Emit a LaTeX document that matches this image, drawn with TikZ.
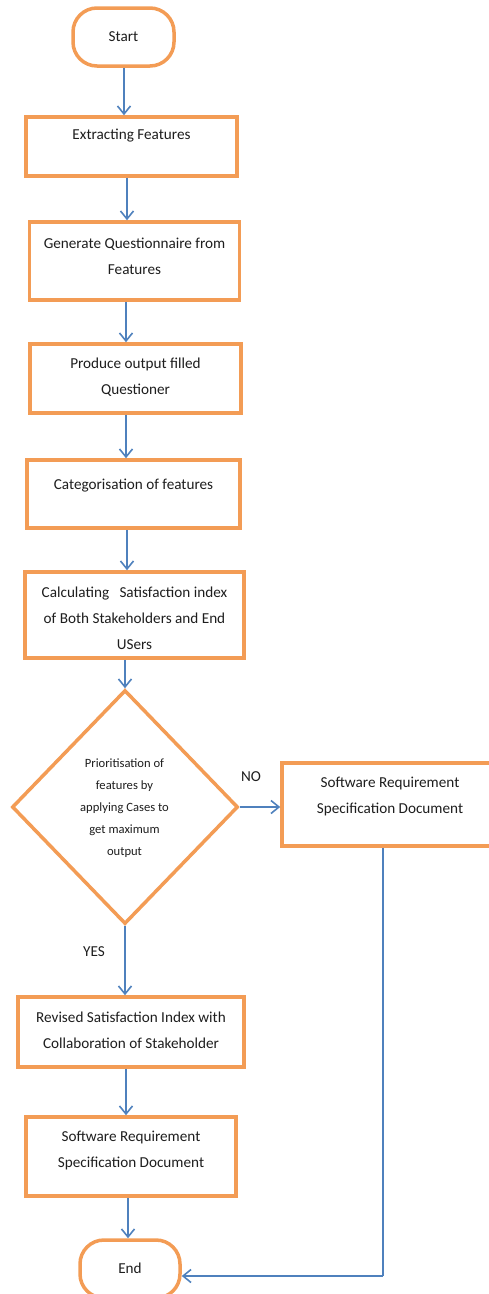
\documentclass[tikz,border=0pt]{standalone}
\usepackage{fontspec}
\setmainfont{Carlito}
\usetikzlibrary{arrows.meta,shapes.geometric}
\definecolor{borange}{HTML}{F39C55}
\definecolor{lblue}{HTML}{4F81BD}
\definecolor{tgray}{HTML}{1E1E1E}
\tikzset{
  box/.style={draw=borange, line width=3.5pt, fill=white, inner sep=0pt},
  term/.style={box, rounded corners=24pt},
  txt/.style={align=center, text=tgray, font=\fontsize{15.2}{26}\selectfont, inner sep=0pt},
  smalltxt/.style={align=center, text=tgray, font=\fontsize{12.6}{22}\selectfont, inner sep=0pt},
  conn/.style={draw=lblue, line width=1.6pt, -{Straight Barb[length=8pt,width=13pt,line width=1.6pt]}},
  plain/.style={draw=lblue, line width=1.6pt}
}
\begin{document}
\begin{tikzpicture}[x=1pt,y=-1pt]
\useasboundingbox (0,0) rectangle (489,1294);
% shapes
\node[term, minimum width=101pt, minimum height=58pt] (start) at (123.5,37) {};
\node[txt] (tstart) at (123.5,37) {Start};

\node[box, minimum width=211pt, minimum height=59pt] (b1) at (131.5,146.5) {};
\node[txt] (t1) at (131.5,136) {Extracting Features};

\node[box, minimum width=210pt, minimum height=78pt] (b2) at (134.5,261) {};
\node[txt] (t2) at (134.5,256) {Generate Questionnaire from\\Features};

\node[box, minimum width=211pt, minimum height=69pt] (b3) at (135.5,378.5) {};
\node[txt] (t3) at (135.5,377.5) {Produce output filled\\Questioner};

\node[box, minimum width=213pt, minimum height=68pt] (b4) at (133.5,494) {};
\node[txt] (t4) at (133.5,486) {Categorisation of features};

\node[box, minimum width=219pt, minimum height=86pt] (b5) at (134.5,615) {};
\node[txt] (t5) at (134.5,618.5) {Calculating\ \ \ Satisfaction index\\of Both Stakeholders and End\\USers};

\node[diamond, draw=borange, line width=3.5pt, fill=white, minimum width=226pt, minimum height=234pt, inner sep=0pt] (d) at (125,807) {};
\node[smalltxt] (td) at (124.5,808) {Prioritisation of\\features by\\applying Cases to\\get maximum\\output};

\node[box, minimum width=210pt, minimum height=83pt] (srs2) at (387,804.5) {};
\node[txt] (tsrs2) at (390,796.5) {Software Requirement\\Specification Document};

\node[box, minimum width=226pt, minimum height=70pt] (b6) at (131,1032) {};
\node[txt] (t6) at (131,1030) {Revised Satisfaction Index with\\Collaboration of Stakeholder};

\node[box, minimum width=210pt, minimum height=79pt] (srs1) at (131,1156.5) {};
\node[txt] (tsrs1) at (131,1150) {Software Requirement\\Specification Document};

\node[term, minimum width=100pt, minimum height=58pt] (end) at (130,1269) {};
\node[txt] (tend) at (130,1268) {End};

% labels
\node[txt] (no) at (251,777) {NO};
\node[txt] (yes) at (94,952) {YES};

% connectors
\draw[conn] (start.south -| 124,0) -- (b1.north -| 124,0);
\draw[conn] (b1.south -| 127,0) -- (b2.north -| 127,0);
\draw[conn] (b2.south -| 126,0) -- (b3.north -| 126,0);
\draw[conn] (b3.south -| 126,0) -- (b4.north -| 126,0);
\draw[conn] (b4.south -| 127,0) -- (b5.north -| 127,0);
\draw[conn] (b5.south -| d.north) -- (d.north);
\draw[conn] (d.east) -- (srs2.west |- d.east);
\draw[conn] (d.south) -- (b6.north -| d.south);
\draw[conn] (b6.south -| 126,0) -- (srs1.north -| 126,0);
\draw[conn] (srs1.south -| 128,0) -- (end.north -| 128,0);
\coordinate (c1) at (383,1276);
\draw[plain] (srs2.south -| c1) -- (c1);
\draw[conn] (c1) -- (end.east |- c1);
\end{tikzpicture}
\end{document}
